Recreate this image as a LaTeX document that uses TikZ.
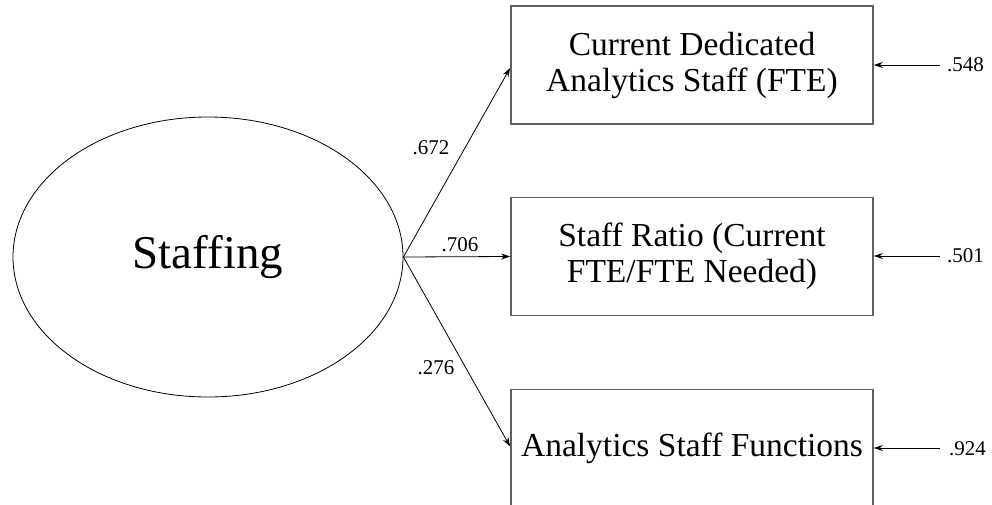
\documentclass[tikz,border=0pt]{standalone}
\usepackage{fontspec}
\setmainfont{Liberation Serif}
\usetikzlibrary{arrows.meta,shapes.geometric}
\definecolor{boxgray}{RGB}{95,95,95}
\begin{document}
\begin{tikzpicture}[x=1pt,y=-1pt,
  latent/.style={draw=black,line width=0.8pt,ellipse,minimum width=390pt,minimum height=280pt,inner sep=0pt,font=\fontsize{47}{50}\selectfont},
  indicator/.style={draw=boxgray,line width=1.8pt,rectangle,minimum width=362pt,minimum height=118pt,inner sep=0pt,align=center,font=\fontsize{33.5}{36}\selectfont},
  pathline/.style={draw=black,line width=0.8pt,-{Stealth[length=9pt,width=6pt]}},
  coef/.style={font=\fontsize{21}{24}\selectfont,inner sep=0pt},
  errlab/.style={font=\fontsize{21}{24}\selectfont,inner sep=0pt,anchor=west}]
\clip (0,0) rectangle (992,505);
\fill[white] (0,0) rectangle (992,505);
\node[latent] (lat) at (208,257) {Staffing};
\node[indicator] (b1) at (692,65) {Current Dedicated\\Analytics Staff (FTE)};
\node[indicator] (b2) at (692,256.5) {Staff Ratio (Current\\FTE/FTE Needed)};
\node[indicator] (b3) at (692,448.5) {Analytics Staff Functions};
\draw[pathline] (lat.east) -- ([yshift=-3pt]b1.west);
\draw[pathline] (lat.east) -- (b2.west);
\draw[pathline] (lat.east) -- ([yshift=2pt]b3.west);
\node[coef] (c1) at (431,148) {.672};
\node[coef] (c2) at (460,245) {.706};
\node[coef] (c3) at (436,368) {.276};
\coordinate (e1) at (940,65);
\coordinate (e2) at (940,256);
\coordinate (e3) at (940,448);
\draw[pathline] (e1) -- (b1.east |- e1);
\draw[pathline] (e2) -- (b2.east |- e2);
\draw[pathline] (e3) -- (b3.east |- e3);
\node[errlab] (l1) at (947,65) {.548};
\node[errlab] (l2) at (947,256) {.501};
\node[errlab] (l3) at (949,449) {.924};
\end{tikzpicture}
\end{document}
